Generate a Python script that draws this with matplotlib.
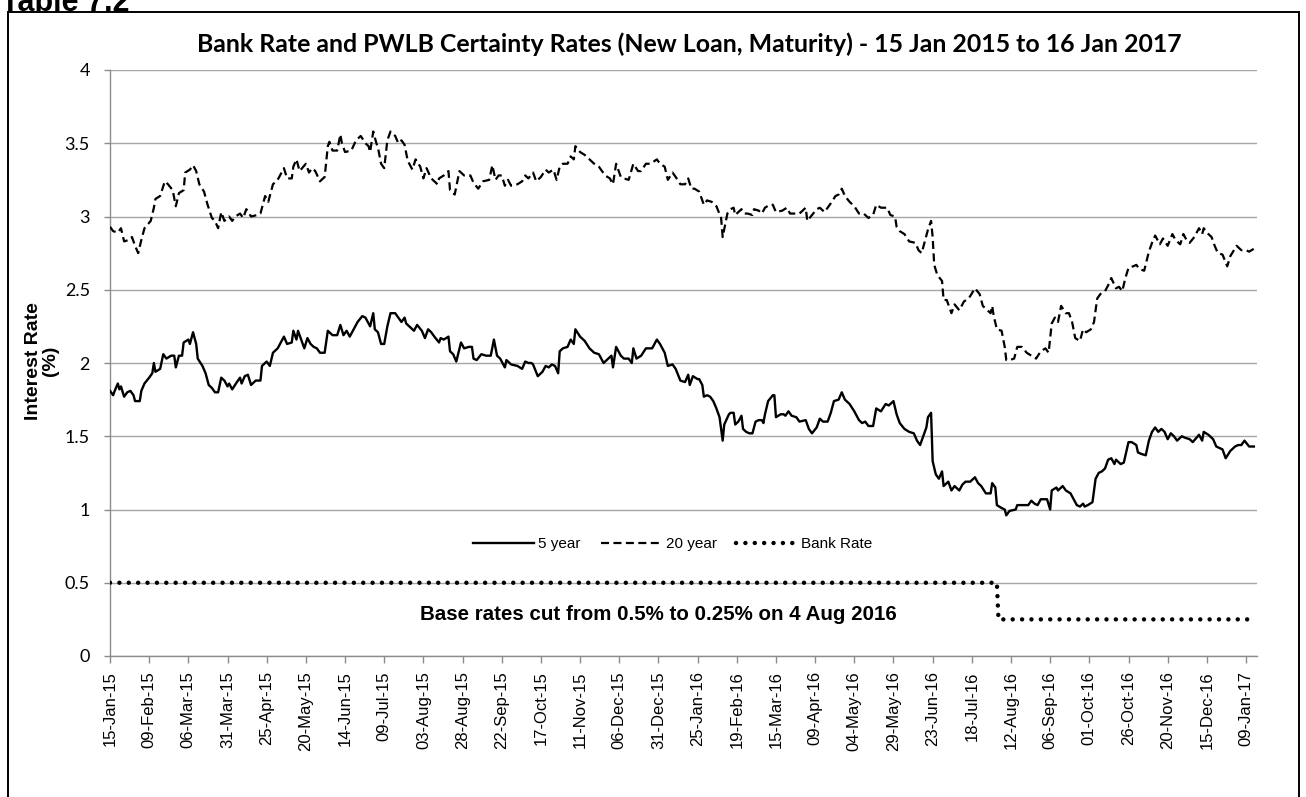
import datetime as dt
import matplotlib
matplotlib.use("Agg")
import matplotlib.pyplot as plt
import matplotlib.dates as mdates
from matplotlib.lines import Line2D
from matplotlib.patches import Rectangle
from matplotlib.ticker import FuncFormatter, FixedLocator

# ---------------- data (days since 15-Jan-2015, % rates) ----------------
start_date = "2015-01-15"

days_5y = [0, 2, 3, 5, 6, 7, 9, 11, 13, 15, 16, 19, 20, 22, 25, 27, 28, 29, 32, 34, 36, 39, 41, 42, 44, 46, 47,
           50, 51, 53, 55, 56, 59, 61, 63, 65, 67, 69, 71, 73, 75, 76, 78, 81, 83, 84, 86, 88, 90, 93, 96, 97,
           100, 102, 104, 107, 111, 113, 116, 117, 119, 120, 122, 124, 126, 128, 130, 132, 134, 137, 139, 142,
           145, 147, 149, 151, 153, 155, 158, 161, 163, 166, 168, 169, 171, 173, 175, 177, 179, 182, 184, 186,
           188, 189, 192, 194, 196, 199, 201, 203, 205, 207, 210, 211, 213, 216, 217, 219, 221, 224, 226, 229,
           231, 232, 234, 237, 240, 243, 245, 247, 249, 252, 253, 256, 260, 263, 265, 267, 269, 270, 273, 276,
           278, 280, 282, 284, 286, 287, 289, 292, 294, 296, 297, 300, 303, 306, 309, 312, 315, 317, 320, 321,
           323, 326, 328, 331, 333, 334, 336, 339, 342, 346, 349, 351, 354, 356, 359, 361, 364, 367, 369, 370,
           372, 375, 376, 378, 379, 381, 383, 385, 387, 389, 391, 392, 395, 396, 398, 399, 401, 403, 404, 406,
           408, 410, 412, 414, 416, 417, 418, 420, 423, 424, 425, 428, 430, 431, 433, 435, 438, 440, 444, 446,
           448, 451, 453, 455, 458, 460, 462, 465, 467, 469, 472, 475, 478, 480, 482, 484, 487, 489, 492, 495,
           497, 500, 502, 504, 507, 510, 513, 515, 517, 519, 521, 522, 524, 525, 527, 529, 531, 532, 535, 537,
           539, 542, 544, 546, 549, 552, 554, 556, 559, 562, 563, 565, 566, 569, 571, 572, 574, 578, 579, 582,
           586, 588, 590, 592, 594, 597, 598, 600, 601, 604, 605, 608, 610, 613, 615, 617, 619, 621, 622, 624,
           627, 629, 631, 633, 635, 637, 639, 641, 642, 645, 647, 650, 652, 655, 656, 658, 661, 663, 665, 667,
           669, 671, 673, 675, 677, 679, 681, 684, 686, 689, 691, 695, 697, 698, 701, 704, 706, 710, 712, 715,
           718, 720, 722, 724, 727, 730]
rate_5y = [1.81, 1.78, 1.81, 1.86, 1.82, 1.84, 1.77, 1.80, 1.81, 1.78, 1.74, 1.74, 1.81, 1.86, 1.90, 1.93, 2.00,
           1.94, 1.96, 2.06, 2.03, 2.05, 2.05, 1.97, 2.05, 2.05, 2.14, 2.16, 2.13, 2.21, 2.13, 2.03, 1.98, 1.93,
           1.85, 1.83, 1.80, 1.80, 1.90, 1.88, 1.84, 1.86, 1.82, 1.87, 1.90, 1.86, 1.91, 1.92, 1.85, 1.88, 1.88,
           1.98, 2.01, 1.98, 2.07, 2.10, 2.18, 2.13, 2.14, 2.22, 2.16, 2.22, 2.16, 2.10, 2.17, 2.13, 2.11, 2.10,
           2.07, 2.07, 2.22, 2.19, 2.19, 2.26, 2.19, 2.22, 2.18, 2.22, 2.28, 2.32, 2.31, 2.25, 2.34, 2.23, 2.21,
           2.13, 2.13, 2.25, 2.34, 2.34, 2.31, 2.28, 2.31, 2.27, 2.24, 2.22, 2.26, 2.22, 2.17, 2.23, 2.21, 2.18,
           2.14, 2.17, 2.16, 2.18, 2.08, 2.06, 2.01, 2.14, 2.10, 2.11, 2.11, 2.03, 2.02, 2.06, 2.05, 2.05, 2.16,
           2.05, 2.03, 1.97, 2.02, 1.99, 1.98, 1.96, 2.01, 2.00, 2.00, 1.99, 1.91, 1.94, 1.98, 1.97, 1.99, 1.98,
           1.93, 2.08, 2.10, 2.11, 2.16, 2.13, 2.23, 2.18, 2.15, 2.10, 2.07, 2.06, 2.00, 2.02, 2.05, 1.97, 2.11,
           2.05, 2.03, 2.03, 2.00, 2.10, 2.03, 2.05, 2.10, 2.10, 2.16, 2.13, 2.07, 1.98, 1.99, 1.96, 1.88, 1.87,
           1.92, 1.85, 1.91, 1.89, 1.89, 1.85, 1.77, 1.78, 1.77, 1.74, 1.69, 1.63, 1.47, 1.58, 1.65, 1.66, 1.66,
           1.58, 1.60, 1.64, 1.55, 1.53, 1.52, 1.52, 1.60, 1.61, 1.61, 1.59, 1.65, 1.74, 1.78, 1.78, 1.63, 1.65,
           1.65, 1.64, 1.67, 1.64, 1.63, 1.60, 1.61, 1.55, 1.52, 1.56, 1.62, 1.60, 1.60, 1.66, 1.74, 1.75, 1.80,
           1.75, 1.72, 1.67, 1.61, 1.59, 1.60, 1.57, 1.57, 1.69, 1.67, 1.72, 1.71, 1.74, 1.65, 1.59, 1.55, 1.53,
           1.52, 1.47, 1.44, 1.50, 1.56, 1.63, 1.66, 1.33, 1.24, 1.21, 1.26, 1.16, 1.19, 1.13, 1.16, 1.13, 1.17,
           1.19, 1.19, 1.22, 1.18, 1.16, 1.11, 1.11, 1.18, 1.15, 1.03, 1.01, 1.00, 0.96, 0.99, 1.00, 1.03, 1.03,
           1.03, 1.06, 1.04, 1.03, 1.07, 1.07, 1.07, 1.00, 1.13, 1.15, 1.13, 1.16, 1.13, 1.11, 1.07, 1.03, 1.02,
           1.04, 1.02, 1.03, 1.05, 1.21, 1.25, 1.26, 1.28, 1.34, 1.35, 1.31, 1.34, 1.31, 1.32, 1.46, 1.46, 1.44,
           1.39, 1.38, 1.37, 1.47, 1.53, 1.56, 1.53, 1.55, 1.53, 1.48, 1.52, 1.50, 1.47, 1.50, 1.49, 1.48, 1.46,
           1.51, 1.47, 1.53, 1.51, 1.48, 1.43, 1.41, 1.35, 1.40, 1.43, 1.44, 1.44, 1.47, 1.43, 1.43]

days_20y = [0, 2, 5, 7, 9, 12, 14, 16, 18, 20, 22, 26, 28, 29, 32, 35, 37, 40, 42, 44, 47, 48, 51, 53, 55, 57,
            60, 62, 65, 67, 69, 71, 73, 76, 78, 80, 83, 85, 87, 90, 94, 96, 99, 101, 104, 107, 111, 113, 116,
            117, 119, 121, 125, 127, 129, 131, 134, 137, 139, 140, 142, 145, 147, 148, 150, 154, 157, 160, 163,
            165, 166, 168, 170, 171, 173, 175, 177, 179, 182, 184, 186, 188, 190, 193, 195, 198, 200, 202, 205,
            209, 210, 213, 216, 217, 220, 223, 226, 230, 232, 235, 238, 242, 244, 246, 248, 250, 252, 254, 256,
            260, 263, 265, 267, 270, 272, 275, 278, 280, 283, 285, 287, 289, 292, 294, 296, 297, 300, 303, 306,
            309, 312, 314, 316, 319, 321, 323, 326, 328, 331, 334, 337, 339, 342, 345, 349, 351, 354, 356, 359,
            361, 364, 367, 369, 371, 373, 376, 379, 381, 384, 387, 390, 391, 394, 396, 398, 399, 403, 405, 407,
            410, 411, 414, 416, 418, 421, 423, 425, 429, 432, 434, 437, 440, 444, 445, 448, 451, 453, 456, 460,
            463, 465, 467, 469, 472, 475, 478, 481, 484, 487, 489, 492, 496, 498, 501, 502, 504, 507, 510, 514,
            516, 518, 520, 522, 524, 525, 526, 528, 531, 532, 534, 537, 539, 542, 545, 548, 552, 555, 557, 560,
            562, 563, 564, 566, 569, 571, 572, 574, 577, 579, 582, 585, 588, 591, 594, 597, 599, 601, 603, 605,
            607, 610, 612, 614, 616, 619, 621, 623, 626, 628, 630, 632, 635, 637, 639, 642, 644, 646, 648, 650,
            653, 655, 657, 660, 663, 665, 667, 670, 672, 675, 678, 680, 683, 685, 687, 689, 692, 695, 697, 698,
            701, 703, 705, 707, 710, 713, 715, 719, 722, 725, 727, 730]
rate_20y = [2.93, 2.90, 2.89, 2.92, 2.83, 2.84, 2.86, 2.80, 2.75, 2.84, 2.92, 2.97, 3.06, 3.12, 3.14, 3.24, 3.22,
            3.18, 3.07, 3.16, 3.18, 3.30, 3.32, 3.35, 3.31, 3.22, 3.17, 3.09, 2.99, 2.97, 2.92, 3.03, 2.97, 3.00,
            2.97, 3.00, 3.02, 2.99, 3.05, 3.00, 3.01, 3.02, 3.14, 3.10, 3.22, 3.25, 3.33, 3.26, 3.26, 3.34, 3.39,
            3.31, 3.36, 3.30, 3.33, 3.31, 3.24, 3.27, 3.48, 3.51, 3.45, 3.45, 3.56, 3.50, 3.44, 3.45, 3.52, 3.55,
            3.50, 3.48, 3.44, 3.58, 3.50, 3.47, 3.36, 3.33, 3.52, 3.58, 3.55, 3.50, 3.52, 3.49, 3.38, 3.32, 3.39,
            3.34, 3.26, 3.33, 3.26, 3.22, 3.26, 3.28, 3.31, 3.18, 3.15, 3.31, 3.28, 3.28, 3.23, 3.19, 3.24, 3.25,
            3.35, 3.25, 3.28, 3.28, 3.21, 3.25, 3.21, 3.22, 3.24, 3.28, 3.26, 3.30, 3.24, 3.27, 3.32, 3.30, 3.32,
            3.25, 3.34, 3.36, 3.36, 3.41, 3.39, 3.48, 3.44, 3.42, 3.39, 3.36, 3.34, 3.31, 3.28, 3.26, 3.22, 3.36,
            3.27, 3.26, 3.25, 3.36, 3.31, 3.31, 3.36, 3.36, 3.39, 3.36, 3.34, 3.25, 3.30, 3.27, 3.22, 3.22, 3.26,
            3.19, 3.19, 3.17, 3.08, 3.11, 3.10, 3.07, 2.99, 2.86, 3.02, 3.05, 3.06, 3.01, 3.05, 3.02, 3.02, 3.01,
            3.05, 3.04, 3.02, 3.06, 3.08, 3.08, 3.03, 3.04, 3.06, 3.02, 3.02, 3.02, 3.06, 2.97, 3.01, 3.05, 3.06,
            3.03, 3.09, 3.14, 3.15, 3.19, 3.14, 3.10, 3.07, 3.02, 3.02, 2.99, 3.01, 3.08, 3.06, 3.06, 3.01, 3.00,
            2.93, 2.90, 2.88, 2.83, 2.82, 2.77, 2.75, 2.83, 2.91, 2.97, 2.86, 2.67, 2.60, 2.56, 2.43, 2.43, 2.34,
            2.40, 2.36, 2.42, 2.44, 2.51, 2.47, 2.39, 2.36, 2.34, 2.39, 2.32, 2.23, 2.22, 2.11, 2.02, 2.02, 2.03,
            2.11, 2.11, 2.07, 2.05, 2.03, 2.08, 2.10, 2.07, 2.27, 2.31, 2.28, 2.39, 2.34, 2.34, 2.28, 2.17, 2.15,
            2.23, 2.21, 2.23, 2.28, 2.44, 2.47, 2.49, 2.53, 2.58, 2.51, 2.52, 2.49, 2.58, 2.65, 2.66, 2.67, 2.64,
            2.63, 2.76, 2.82, 2.87, 2.81, 2.85, 2.80, 2.88, 2.84, 2.81, 2.88, 2.84, 2.82, 2.86, 2.92, 2.88, 2.92,
            2.88, 2.86, 2.80, 2.75, 2.74, 2.66, 2.73, 2.80, 2.77, 2.77, 2.76, 2.78]

bank_dates = ["2015-01-15", "2016-08-03", "2016-08-04", "2017-01-15"]
bank_rate = [0.5, 0.5, 0.25, 0.25]

tick_step_days = 25
n_ticks = 30
y_ticks = [0, 0.5, 1, 1.5, 2, 2.5, 3, 3.5, 4]

title = "Bank Rate and PWLB Certainty Rates (New Loan, Maturity) - 15 Jan 2015 to 16 Jan 2017"
y_label = "Interest Rate\n(%)"
series_labels = ["5 year", "20 year", "Bank Rate"]
note = "Base rates cut from 0.5% to 0.25% on 4 Aug 2016"
table_label = "Table 7.2"

# ---------------- drawing ----------------
W, H = 1306, 797
fig = plt.figure(figsize=(W / 100, H / 100), dpi=100)
fig.patch.set_facecolor("white")

ax_l, ax_r, ax_t, ax_b = 110, 1257, 70, 656
ax = fig.add_axes([ax_l / W, 1 - ax_b / H, (ax_r - ax_l) / W, (ax_b - ax_t) / H])

t0 = mdates.date2num(dt.datetime.strptime(start_date, "%Y-%m-%d"))
x5 = [t0 + d for d in days_5y]
x20 = [t0 + d for d in days_20y]
xb = [mdates.date2num(dt.datetime.strptime(s, "%Y-%m-%d")) for s in bank_dates]

dash20 = (0, (3.6, 2.0))
dotb = (0, (0.01, 2.1))

ax.plot(x5, rate_5y, color="black", lw=1.7, solid_joinstyle="round", zorder=3)
ax.plot(x20, rate_20y, color="black", lw=1.6, linestyle=dash20, zorder=3)
ax.plot(xb, bank_rate, color="black", lw=3.2, linestyle=dotb, dash_capstyle="round", zorder=3)

ax.set_xlim(t0, t0 + 732)
ax.set_ylim(0, 4)
ax.yaxis.set_major_locator(FixedLocator(y_ticks))
ax.yaxis.set_major_formatter(FuncFormatter(lambda v, p: f"{v:g}"))
ax.xaxis.set_major_locator(FixedLocator([t0 + i * tick_step_days for i in range(n_ticks)]))
ax.xaxis.set_major_formatter(mdates.DateFormatter("%d-%b-%y"))

ax.grid(axis="y", color="#a6a6a6", lw=1.0, zorder=0)
ax.set_axisbelow(True)
for s in ["top", "right"]:
    ax.spines[s].set_visible(False)
for s in ["left", "bottom"]:
    ax.spines[s].set_color("#8c8c8c")
    ax.spines[s].set_linewidth(1.0)

ax.tick_params(axis="y", direction="out", length=4.5, width=1, color="#8c8c8c", pad=10,
               labelsize=13, labelcolor="black")
ax.tick_params(axis="x", direction="out", length=5, width=1, color="#8c8c8c", pad=6,
               labelsize=12, labelcolor="black", labelrotation=90)
for lab in ax.get_yticklabels():
    lab.set_fontfamily("Lato")
for lab in ax.get_xticklabels():
    lab.set_fontfamily("Liberation Sans")

# y label
fig.text(42 / W, 1 - 361 / H, y_label, rotation=90, ha="center", va="center",
         multialignment="center", fontsize=14, fontweight="bold", family="Liberation Sans",
         linespacing=1.0)

# title, fitted to reference width
tt = fig.text(689 / W, 1 - 44 / H, title, ha="center", va="center", fontsize=14,
              fontweight="bold", family="Lato")
fig.canvas.draw()
r = fig.canvas.get_renderer()
wpx = tt.get_window_extent(r).width
tt.set_fontsize(14 * 991 / wpx)

# annotation
nt = ax.text((658 - ax_l) / (ax_r - ax_l), (ax_b - 614) / (ax_b - ax_t), note, transform=ax.transAxes,
             ha="center", va="center", fontsize=11.5, fontweight="bold",
             family=["Liberation Sans Narrow", "Liberation Sans"])
fig.canvas.draw()
wpx = nt.get_window_extent(r).width
nt.set_fontsize(11.5 * 480 / wpx)

# legend
h5 = Line2D([], [], color="black", lw=1.7)
h20 = Line2D([], [], color="black", lw=1.6, linestyle=dash20)
hb = Line2D([], [], color="black", lw=3.2, linestyle=dotb, dash_capstyle="round")
ax.legend([h5, h20, hb], series_labels, ncol=3, loc="center",
          bbox_to_anchor=((673 - ax_l) / (ax_r - ax_l), (ax_b - 544) / (ax_b - ax_t)),
          frameon=False, handlelength=4.0, handletextpad=0.25, columnspacing=1.3,
          prop={"family": "Liberation Sans", "size": 11})

# table label (partly cut at top, as in the reference) and outer border
fig.text(1 / W, 1 - 11 / H, table_label, ha="left", va="baseline", fontsize=22,
         fontweight="bold", family="Liberation Sans")
fig.add_artist(Rectangle((8 / W, -0.02), (1299 - 8) / W, (H - 12) / H + 0.02,
                         transform=fig.transFigure, fill=False, ec="black", lw=1.4))

fig.savefig("out.png", dpi=100, facecolor="white")
